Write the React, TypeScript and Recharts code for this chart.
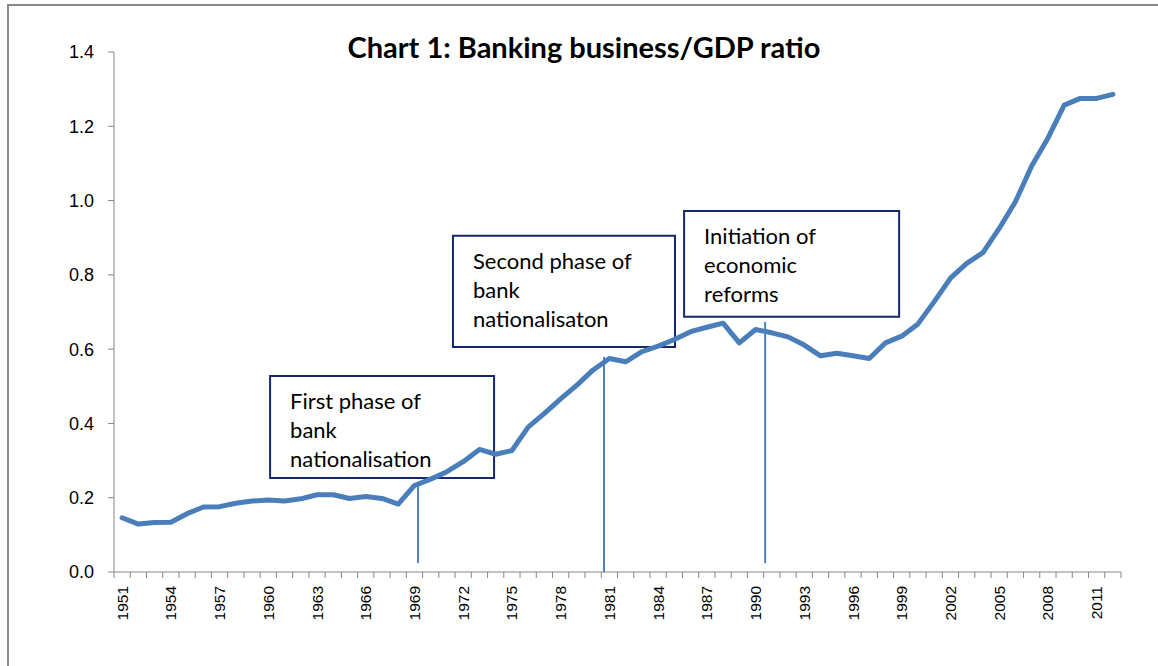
import React from "react";
import { LineChart, Line, XAxis, YAxis, ReferenceLine, ReferenceArea } from "recharts";

const years = [
  1951, 1952, 1953, 1954, 1955, 1956, 1957, 1958, 1959, 1960,
  1961, 1962, 1963, 1964, 1965, 1966, 1967, 1968, 1969, 1970,
  1971, 1972, 1973, 1974, 1975, 1976, 1977, 1978, 1979, 1980,
  1981, 1982, 1983, 1984, 1985, 1986, 1987, 1988, 1989, 1990,
  1991, 1992, 1993, 1994, 1995, 1996, 1997, 1998, 1999, 2000,
  2001, 2002, 2003, 2004, 2005, 2006, 2007, 2008, 2009, 2010,
  2011, 2012,
];

const ratio = [
  0.146, 0.129, 0.133, 0.134, 0.157, 0.175, 0.176, 0.185, 0.191, 0.194,
  0.191, 0.197, 0.208, 0.208, 0.198, 0.203, 0.198, 0.183, 0.233, 0.25,
  0.27, 0.297, 0.33, 0.317, 0.327, 0.39, 0.427, 0.466, 0.503, 0.544,
  0.575, 0.566, 0.593, 0.608, 0.626, 0.647, 0.659, 0.67, 0.617, 0.653,
  0.644, 0.633, 0.611, 0.582, 0.589, 0.582, 0.575, 0.617, 0.635, 0.668,
  0.728, 0.791, 0.831, 0.86, 0.925, 0.997, 1.093, 1.168, 1.257, 1.275,
  1.275, 1.286,
];

const labelYears = [1951, 1954, 1957, 1960, 1963, 1966, 1969, 1972, 1975, 1978, 1981, 1984, 1987, 1990, 1993, 1996, 1999, 2002, 2005, 2008, 2011];
const yTicks = [0, 0.2, 0.4, 0.6, 0.8, 1.0, 1.2, 1.4];

// annotation markers: x position (year), bottom and top values
const markerX = [1969.22, 1980.67, 1990.59];
const markerBottom = [0.024, 0, 0.024];
const markerTop = [0.234, 0.579, 0.673];

// annotation boxes
const boxX1 = [1960.11, 1971.37, 1985.6];
const boxX2 = [1973.9, 1985.04, 1998.84];
const boxYTop = [0.528, 0.905, 0.972];
const boxYBottom = [0.253, 0.606, 0.687];
const boxText = [
  ["First phase of", "bank", "nationalisation"],
  ["Second phase of", "bank", "nationalisaton"],
  ["Initiation of", "economic", "reforms"],
];

const data = years.map((y, i) => ({ year: y, ratio: ratio[i] }));
const boundaryTicks = years.map((y) => y - 0.5).concat([years[years.length - 1] + 0.5]);
const xTicks = [...boundaryTicks, ...labelYears];

const AXIS = "#868686";

const XTick = (props: any) => {
  const { x, y, payload } = props;
  const v = payload.value;
  if (Math.abs(v % 1) > 0.01) {
    return <line x1={x} y1={y} x2={x} y2={y + 6} stroke={AXIS} strokeWidth={1} />;
  }
  return (
    <text
      transform={`translate(${x + 5.5},${y + 14}) rotate(-90)`}
      textAnchor="end"
      fontFamily="'Liberation Sans', Arial, sans-serif"
      fontSize={15.5}
      fill="#000"
    >
      {v}
    </text>
  );
};

const BoxLabel = (props: any) => {
  const { viewBox, lines } = props;
  if (!viewBox) return null;
  return (
    <text
      fontFamily="Lato, 'Open Sans', sans-serif"
      fontSize={22}
      fill="#000"
    >
      {lines.map((t: string, i: number) => (
        <tspan key={i} x={viewBox.x + 20} y={viewBox.y + 33 + i * 29}>
          {t}
        </tspan>
      ))}
    </text>
  );
};

export default function App() {
  return (
    <div style={{ position: "absolute", left: 0, top: 0, width: 1158, height: 666, background: "#fff", overflow: "hidden" }}>
      <div
        style={{
          position: "absolute",
          left: 7,
          top: 4,
          width: 1200,
          height: 700,
          borderLeft: `2px solid #8a8a8a`,
          borderTop: `2px solid #8a8a8a`,
          boxSizing: "border-box",
        }}
      />
      <LineChart
        width={1158}
        height={666}
        data={data}
        margin={{ top: 52, right: 37, bottom: 0, left: 0 }}
      >
        <XAxis
          dataKey="year"
          type="number"
          domain={[1950.5, 2012.5]}
          ticks={xTicks}
          interval={0}
          tickLine={false}
          tickSize={0}
          tickMargin={0}
          tick={<XTick />}
          axisLine={{ stroke: AXIS }}
          height={94}
          allowDataOverflow
        />
        <YAxis
          type="number"
          domain={[0, 1.4]}
          ticks={yTicks}
          width={114}
          tickSize={6}
          tickMargin={14}
          tickLine={{ stroke: AXIS }}
          axisLine={{ stroke: AXIS }}
          tickFormatter={(v: number) => v.toFixed(1)}
          tick={{ fill: "#000", fontSize: 18, fontFamily: "'Liberation Sans', Arial, sans-serif" }}
        />
        {boxText.map((lines, i) => (
          <ReferenceArea
            key={`box${i}`}
            x1={boxX1[i]}
            x2={boxX2[i]}
            y1={boxYBottom[i]}
            y2={boxYTop[i]}
            fill="none"
            fillOpacity={0}
            stroke="#14286b"
            strokeWidth={2}
            strokeOpacity={1}
            ifOverflow="visible"
            label={<BoxLabel lines={lines} />}
          />
        ))}
        {markerX.map((mx, i) => (
          <ReferenceLine
            key={`m${i}`}
            segment={[
              { x: mx, y: markerBottom[i] },
              { x: mx, y: markerTop[i] },
            ]}
            stroke="#4F81BD"
            strokeWidth={2}
            ifOverflow="visible"
          />
        ))}
        <Line
          dataKey="ratio"
          type="linear"
          stroke="#4A7EBB"
          strokeWidth={5}
          dot={false}
          activeDot={false}
          strokeLinejoin="round"
          strokeLinecap="round"
          isAnimationActive={false}
        />
      </LineChart>
      <div
        style={{
          position: "absolute",
          left: 0,
          top: 30,
          width: 1168,
          textAlign: "center",
          fontFamily: "Lato, 'Open Sans', sans-serif",
          fontWeight: 700,
          fontSize: 29,
          lineHeight: "34px",
          color: "#000",
        }}
      >
        Chart 1: Banking business/GDP ratio
      </div>
    </div>
  );
}
